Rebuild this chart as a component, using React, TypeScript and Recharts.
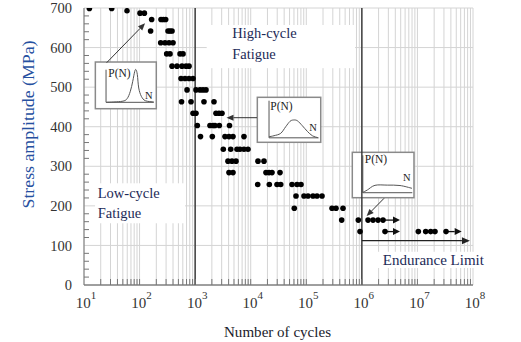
import React from 'react';
import {
  ScatterChart,
  Scatter,
  XAxis,
  YAxis,
  CartesianGrid,
  ReferenceLine,
  ReferenceArea,
} from 'recharts';

// ---------------- data ----------------
// stress amplitude levels (MPa)
const stressLevels = [699, 693, 687, 671, 642, 612, 584, 553, 522, 493, 463, 434, 403, 375, 343, 313, 284, 254, 225, 194, 164, 135];
// number of cycles to failure observed at each level
const cyclesAtLevel: number[][] = [
  [12.5, 31.5],
  [59.4],
  [102, 122],
  [165, 243, 267, 295],
  [158, 325, 353, 384],
  [240, 287, 339, 400],
  [308, 353, 535, 605],
  [384, 472, 580, 686, 776],
  [557, 658, 776, 916],
  [715, 1035, 1222, 1384, 1567],
  [569, 843, 1442, 2183],
  [916, 1035, 2372, 2686, 3042],
  [1094, 1849, 2095, 2275, 2722, 4150],
  [1248, 2037, 3443, 4064, 4797, 7565],
  [3211, 4361, 5665, 6410, 7565, 8928],
  [3900, 4604, 5436, 13520, 17340],
  [4064, 4797, 18820, 21320, 24150, 33650],
  [13360, 21620, 29730, 34670, 55340, 68060, 80380],
  [65310, 90980, 107400, 132100, 155900, 191900],
  [60830, 290500, 342800, 458100],
  [433500, 863000, 1291000, 1589000, 1954000, 2404000],
  [927000, 2610000, 10380000, 14100000, 17340000, 20700000, 32700000],
];

// run-out (unbroken) specimens: arrows
const runoutStress = [164, 135, 135];
const runoutFrom = [2.5e6, 2.61e6, 3.27e7];
const runoutTo = [4.86e6, 4.86e6, 6.26e7];

// endurance limit
const enduranceStress = 112;
const enduranceFrom = 1e6;
const enduranceTo = 8.8e7;

// regime boundaries
const regimeBounds = [1e3, 1e6];

// axis ticks
const yMinorTicks: number[] = [];
for (let v = 0; v <= 700; v += 20) yMinorTicks.push(v);
const yMajorTicks = [0, 100, 200, 300, 400, 500, 600, 700];
const xTicks: number[] = [];
for (let d = 1; d <= 7; d++) for (let m = 1; m <= 9; m++) xTicks.push(m * Math.pow(10, d));
xTicks.push(1e8);

const points = stressLevels.flatMap((s, i) => cyclesAtLevel[i].map((n) => ({ x: n, y: s })));

// ---------------- layout / styles ----------------
const W = 521;
const H = 342;
const MARGIN = { top: 8, right: 48, bottom: 0, left: 0 };
const Y_AXIS_W = 84;
const X_AXIS_H = 57;
const PLOT_LEFT = MARGIN.left + Y_AXIS_W;
const PLOT_BOTTOM = H - MARGIN.bottom - X_AXIS_H;

const FONT = '"Liberation Serif", "Times New Roman", serif';
const NAVY = '#1c2a57';

const boxHigh = { x1: 1615, x2: 753000, y1: 548, y2: 657 };
const boxLow = { x1: 15.8, x2: 657, y1: 156, y2: 257 };
const boxEnd = { x1: 1.59e6, x2: 2.02e8, y1: 43, y2: 84 };
const inset1 = { x1: 16, x2: 200, y1: 445.5, y2: 563.5 };
const inset2 = { x1: 13150, x2: 182000, y1: 360.6, y2: 474.3 };
const inset3 = { x1: 673000, x2: 8.67e6, y1: 220.6, y2: 335.3 };
const insetArrows = [
  { x1: 25.6, y1: 561.8, x2: 125.3, y2: 661.3 },
  { x1: 12970, y1: 422.8, x2: 3664, y2: 422.8 },
  { x1: 2.51e6, y1: 219.1, x2: 1.22e6, y2: 174.4 },
];

// ---------------- helpers ----------------
const smoothPath = (pts: number[][], ox: number, oy: number) => {
  const P = pts.map((p) => [p[0] + ox, p[1] + oy]);
  let d = `M${P[0][0]},${P[0][1]}`;
  for (let i = 0; i < P.length - 1; i++) {
    const p0 = P[i - 1] || P[i];
    const p1 = P[i];
    const p2 = P[i + 1];
    const p3 = P[i + 2] || p2;
    const c1x = p1[0] + (p2[0] - p0[0]) / 6;
    const c1y = p1[1] + (p2[1] - p0[1]) / 6;
    const c2x = p2[0] - (p3[0] - p1[0]) / 6;
    const c2y = p2[1] - (p3[1] - p1[1]) / 6;
    d += ` C${c1x},${c1y} ${c2x},${c2y} ${p2[0]},${p2[1]}`;
  }
  return d;
};

const arrowShape = (color: string, w: number, headLen: number, headHalf: number) => (p: any) => {
  const { x1, y1, x2, y2 } = p;
  const ang = Math.atan2(y2 - y1, x2 - x1);
  const bx = x2 - headLen * Math.cos(ang);
  const by = y2 - headLen * Math.sin(ang);
  const nx = -Math.sin(ang) * headHalf;
  const ny = Math.cos(ang) * headHalf;
  return (
    <g>
      <line x1={x1} y1={y1} x2={bx} y2={by} stroke={color} strokeWidth={w} />
      <polygon points={`${x2},${y2} ${bx + nx},${by + ny} ${bx - nx},${by - ny}`} fill={color} />
    </g>
  );
};

const textBox = (lines: string[], dx: number, lineYs: number[], size: number) => (p: any) => (
  <g>
    <rect x={p.x} y={p.y} width={p.width} height={p.height} fill="#ffffff" />
    {lines.map((t, i) => (
      <text key={i} x={p.x + dx} y={p.y + lineYs[i]} dy="0.35em" fontFamily={FONT} fontSize={size} fill={NAVY}>
        {t}
      </text>
    ))}
  </g>
);

type InsetSpec = {
  axisX: number;
  top: number;
  base: number;
  right: number;
  pLab: number[];
  nLab: number[];
  curve: number[][];
};

const insetShape = (s: InsetSpec) => (p: any) => (
  <g>
    <rect x={p.x} y={p.y} width={p.width} height={p.height} fill="#ffffff" stroke="#8a8a8a" strokeWidth={1.5} />
    <line x1={p.x + s.axisX} x2={p.x + s.axisX} y1={p.y + s.top} y2={p.y + s.base} stroke="#555" strokeWidth={1} />
    <line x1={p.x + s.axisX} x2={p.x + s.right} y1={p.y + s.base} y2={p.y + s.base} stroke="#555" strokeWidth={1} />
    <path d={smoothPath(s.curve, p.x, p.y)} fill="none" stroke="#555" strokeWidth={1} />
    <text x={p.x + s.pLab[0]} y={p.y + s.pLab[1]} dy="0.35em" fontFamily={FONT} fontSize={11.5} fill="#222">
      P(N)
    </text>
    <text x={p.x + s.nLab[0]} y={p.y + s.nLab[1]} dy="0.35em" textAnchor="middle" fontFamily={FONT} fontSize={10.5} fill="#222">
      N
    </text>
  </g>
);

const inset1Spec: InsetSpec = {
  axisX: 10.7, top: 7.7, base: 40.3, right: 58.4, pLab: [13, 11], nLab: [53.4, 33.3],
  curve: [[11, 40.3], [26.7, 39.3], [31.7, 36.7], [35, 29.3], [37.4, 19.3], [39.4, 9.3], [40.7, 7.7], [42, 12.7], [43.4, 26], [46, 34.3], [50, 38.7], [58.4, 40]],
};
const inset2Spec: InsetSpec = {
  axisX: 11.7, top: 3.4, base: 40.5, right: 61, pLab: [13, 8.5], nLab: [55.7, 29.7],
  curve: [[11.7, 39.4], [16.7, 38.4], [23.4, 36], [28.4, 29.4], [32.7, 24], [36, 22.7], [40, 23.4], [45, 28.4], [50, 34], [55, 38.4], [61, 40.5]],
};
const inset3Spec: InsetSpec = {
  axisX: 10.5, top: 3, base: 40.4, right: 60, pLab: [12.5, 6.5], nLab: [54.4, 25],
  curve: [[10.5, 40], [15, 37.7], [22.7, 33], [35, 32.8], [47.7, 33.2], [59.7, 36]],
};

const XTick = (props: any) => {
  const { x, payload } = props;
  const v = payload.value as number;
  const e = Math.round(Math.log10(v));
  const major = Math.abs(v - Math.pow(10, e)) < 1e-6 * v;
  const y = PLOT_BOTTOM;
  return (
    <g>
      {v > 10 && v < 1e8 && <line x1={x} x2={x} y1={y} y2={y - 6} stroke="#777" strokeWidth={1} />}
      {major && (
        <text x={x + 2} y={y + 23} textAnchor="middle" fontFamily={FONT} fontSize={15} fill="#333">
          10
          <tspan dy={-9} fontSize={11}>
            {e}
          </tspan>
        </text>
      )}
    </g>
  );
};

const YTick = (props: any) => {
  const { y, payload } = props;
  const v = payload.value as number;
  const major = v % 100 === 0;
  const x = PLOT_LEFT;
  return (
    <g>
      {!major && <line x1={x} x2={x + 5} y1={y} y2={y} stroke="#777" strokeWidth={1} />}
      {major && (
        <text x={x - 12} y={y} dy="0.35em" textAnchor="end" fontFamily={FONT} fontSize={14.5} fill="#333">
          {v}
        </text>
      )}
    </g>
  );
};

const YLabel = () => (
  <text
    x={28}
    y={124.5}
    transform="rotate(-90, 28, 124.5)"
    textAnchor="middle"
    dy="0.35em"
    fontFamily={FONT}
    fontSize={17}
    textLength={168}
    lengthAdjust="spacingAndGlyphs"
    fill="#2650a0"
  >
    Stress amplitude (MPa)
  </text>
);

const XLabel = () => (
  <text
    x={277.5}
    y={331.5}
    textAnchor="middle"
    dy="0.35em"
    fontFamily={FONT}
    fontSize={15}
    textLength={107}
    lengthAdjust="spacingAndGlyphs"
    fill="#1b1b2b"
  >
    Number of cycles
  </text>
);

export default function App() {
  return (
    <div style={{ position: 'absolute', left: 0, top: 0, width: W, height: H, background: '#fff' }}>
      <ScatterChart width={W} height={H} margin={MARGIN}>
        <CartesianGrid
          stroke="#d4d4d4"
          strokeWidth={1}
          horizontalValues={yMajorTicks}
          verticalValues={xTicks}
        />
        <XAxis
          dataKey="x"
          type="number"
          scale="log"
          domain={[10, 1e8]}
          allowDataOverflow
          ticks={xTicks}
          interval={0}
          tick={(p: any) => <XTick {...p} />}
          tickLine={false}
          height={X_AXIS_H}
          axisLine={{ stroke: '#555', strokeWidth: 1 }}
          label={() => <XLabel />}
        />
        <YAxis
          dataKey="y"
          type="number"
          domain={[0, 700]}
          allowDataOverflow
          ticks={yMinorTicks}
          interval={0}
          tick={(p: any) => <YTick {...p} />}
          tickLine={false}
          width={Y_AXIS_W}
          axisLine={{ stroke: '#777', strokeWidth: 1 }}
          label={() => <YLabel />}
        />
        <ReferenceArea {...boxHigh} ifOverflow="visible" shape={textBox(['High-cycle', 'Fatigue'], 25.6, [8.3, 29.3], 14.5)} />
        <ReferenceArea {...boxLow} ifOverflow="visible" shape={textBox(['Low-cycle', 'Fatigue'], 2.7, [10, 30], 14.5)} />
        <ReferenceArea {...boxEnd} ifOverflow="visible" shape={textBox(['Endurance Limit'], 9.7, [7.6], 15)} />
        {regimeBounds.map((b) => (
          <ReferenceLine key={b} x={b} stroke="#333" strokeWidth={1.4} />
        ))}
        <ReferenceLine
          segment={[{ x: enduranceFrom, y: enduranceStress }, { x: enduranceTo, y: enduranceStress }]}
          ifOverflow="visible"
          shape={arrowShape('#222', 1.2, 8, 3.5)}
        />
        {runoutStress.map((s, i) => (
          <ReferenceLine
            key={'r' + i}
            segment={[{ x: runoutFrom[i], y: s }, { x: runoutTo[i], y: s }]}
            ifOverflow="visible"
            shape={arrowShape('#111', 1.3, 7, 3.5)}
          />
        ))}
        <Scatter
          data={points}
          isAnimationActive={false}
          shape={(p: any) => <circle cx={p.cx} cy={p.cy} r={2.8} fill="#000" />}
        />
        <ReferenceArea {...inset1} ifOverflow="visible" shape={insetShape(inset1Spec)} />
        <ReferenceArea {...inset2} ifOverflow="visible" shape={insetShape(inset2Spec)} />
        <ReferenceArea {...inset3} ifOverflow="visible" shape={insetShape(inset3Spec)} />
        {insetArrows.map((a, i) => (
          <ReferenceLine
            key={'a' + i}
            segment={[{ x: a.x1, y: a.y1 }, { x: a.x2, y: a.y2 }]}
            ifOverflow="visible"
            shape={arrowShape('#333', 1, 7, 3)}
          />
        ))}
      </ScatterChart>
    </div>
  );
}
